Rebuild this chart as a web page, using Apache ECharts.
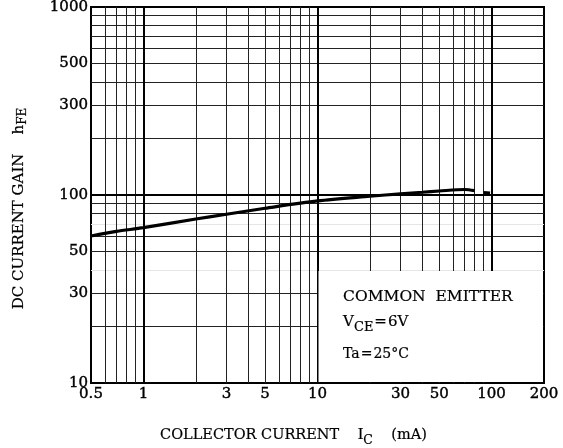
<!DOCTYPE html>
<html>
<head>
<meta charset="utf-8">
<script src="https://cdn.jsdelivr.net/npm/echarts@6/dist/echarts.min.js"></script>
<style>
html,body{margin:0;padding:0;background:#fff;}
#chart{width:563px;height:448px;}
</style>
</head>
<body>
<div id="chart"></div>
<script>
// ---- data ----
const curveCurrent = [0.5, 0.7, 1, 2, 3, 5, 10, 20, 30, 40, 50, 70, 80];
const curveGain    = [60.5, 64, 67, 74.5, 79, 85, 93, 98.5, 101.5, 103.4, 105, 107, 105.5];
const tailCurrent  = [90, 98];
const tailGain     = [103, 102.5];

const xTickLabels = [0.5, 1, 3, 5, 10, 30, 50, 100, 200];
const yTickLabels = [10, 30, 50, 100, 300, 500, 1000];

const xGridMinor = [0.6, 0.7, 0.8, 0.9, 2, 3, 4, 5, 6, 7, 8, 9, 20, 30, 40, 50, 60, 70, 80, 90];
const xGridMajor = [1, 10, 100];
const yGridMinor = [20, 30, 50, 60, 80, 90, 200, 300, 400, 500, 600, 700, 800, 900];
const yGridFaint = [40, 70];
const yGridMajor = [100];

const noteLines = ['COMMON  EMITTER', 'V{s|CE}{e|=}6V', 'Ta{e|=}25°C'];

const FONT = 'DejaVu Serif';

const chart = echarts.init(document.getElementById('chart'), null, {renderer: 'canvas'});

function gridLines(vals, axisKey, color, width) {
  return vals.map(v => ({[axisKey]: v, lineStyle: {color: color, width: width, type: 'solid'}}));
}

const option = {
  backgroundColor: '#fff',
  animation: false,
  grid: {left: 91, right: 19, top: 7, bottom: 65, show: true, borderColor: '#000', borderWidth: 2,
    backgroundColor: '#fff', containLabel: false, outerBoundsMode: 'none'},
  xAxis: {
    type: 'log', logBase: 10, min: 0.5, max: 200,
    axisLine: {show: true, lineStyle: {color: '#000', width: 2}},
    axisTick: {show: false},
    splitLine: {show: false},
    axisLabel: {customValues: xTickLabels, color: '#000', fontFamily: FONT, fontSize: 15, margin: 4,
      textBorderColor: '#000', textBorderWidth: 0.4, formatter: v => String(v)},
    name: 'COLLECTOR CURRENT    I{s|C}    (mA)',
    nameLocation: 'middle', nameGap: 41,
    nameTextStyle: {color: '#000', fontFamily: FONT, fontSize: 14.5, padding: [0, 48, 0, 0],
      textBorderColor: '#000', textBorderWidth: 0.2,
      rich: {s: {fontFamily: FONT, fontSize: 12.5, padding: [10, 0, 0, 0]}}}
  },
  yAxis: {
    type: 'log', logBase: 10, min: 10, max: 1000,
    axisLine: {show: true, lineStyle: {color: '#000', width: 2}},
    axisTick: {show: false},
    splitLine: {show: false},
    axisLabel: {customValues: yTickLabels, color: '#000', fontFamily: FONT, fontSize: 15, margin: 3,
      textBorderColor: '#000', textBorderWidth: 0.4, formatter: v => String(v)},
    name: 'DC CURRENT GAIN    h{s|FE}',
    nameLocation: 'middle', nameGap: 62, nameRotate: 90,
    nameTextStyle: {color: '#000', fontFamily: FONT, fontSize: 15, padding: [0, 27, 0, 0],
      textBorderColor: '#000', textBorderWidth: 0.2,
      rich: {s: {fontFamily: FONT, fontSize: 12, padding: [8, 0, 0, 0]}}}
  },
  graphic: [
    {type: 'rect', z: 50, shape: {x: 318.5, y: 271, width: 224.5, height: 111}, style: {fill: '#fff'}},
    {type: 'text', z: 51, left: 343, top: 289, style: {text: noteLines[0], fill: '#000', font: '15.5px "DejaVu Serif"',
      stroke: '#000', lineWidth: 0.2}},
    {type: 'text', z: 51, left: 343, top: 315, style: {text: noteLines[1], fill: '#000', font: '15px "DejaVu Serif"',
      stroke: '#000', lineWidth: 0.2,
      rich: {s: {fontFamily: FONT, fontSize: 13, padding: [10, 0, 0, 0]}, e: {fontFamily: FONT, fontSize: 15, padding: [0, 1, 0, 1]}}}},
    {type: 'text', z: 51, left: 343, top: 347, style: {text: noteLines[2], fill: '#000', font: '14px "DejaVu Serif"',
      stroke: '#000', lineWidth: 0.2,
      rich: {e: {fontFamily: FONT, fontSize: 14, padding: [0, 1, 0, 1]}}}}
  ],
  series: [
    {
      type: 'line', name: 'grid', data: [], silent: true,
      markLine: {
        silent: true, symbol: ['none', 'none'], label: {show: false}, animation: false,
        data: [].concat(
          gridLines(yGridFaint, 'yAxis', '#e6e6e6', 1),
          gridLines(xGridMinor, 'xAxis', '#222', 1),
          gridLines(yGridMinor, 'yAxis', '#222', 1),
          gridLines(xGridMajor, 'xAxis', '#000', 2),
          gridLines(yGridMajor, 'yAxis', '#000', 2)
        )
      }
    },
    {
      type: 'line', name: 'hFE', smooth: 0.3, showSymbol: false, z: 10,
      lineStyle: {color: '#000', width: 3.2},
      data: curveCurrent.map((c, i) => [c, curveGain[i]])
    },
    {
      type: 'line', name: 'hFE tail', showSymbol: false, z: 10,
      lineStyle: {color: '#000', width: 3.2},
      data: tailCurrent.map((c, i) => [c, tailGain[i]])
    }
  ]
};
chart.setOption(option);
</script>
</body>
</html>
